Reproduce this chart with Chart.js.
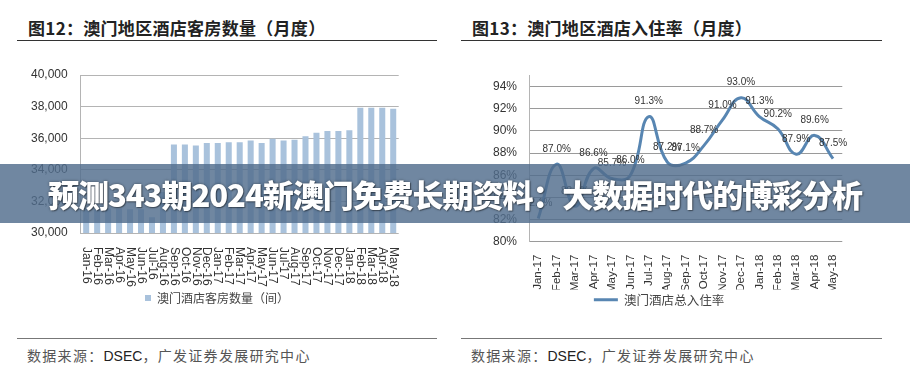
<!DOCTYPE html>
<html><head><meta charset="utf-8">
<script src="https://cdn.jsdelivr.net/npm/chart.js@4.4.0/dist/chart.umd.min.js"></script>
<style>
body{margin:0;width:910px;height:388px;background:#fff;position:relative;overflow:hidden;font-family:"Noto Sans CJK SC",sans-serif;}
.title{position:absolute;top:18px;line-height:20px;font-size:17px;letter-spacing:0.3px;font-weight:bold;color:#222;white-space:nowrap;}
.hline{position:absolute;height:0;}
.src{position:absolute;top:346px;line-height:18px;font-size:14px;letter-spacing:1.3px;color:#555;white-space:nowrap;}
.src b{font-family:"Liberation Sans",Arial,sans-serif;font-weight:normal;font-size:14px;letter-spacing:0;color:#222;}
.box{position:absolute;}
#banner{position:absolute;left:0;top:164px;width:910px;height:59px;background:rgba(80,108,140,0.82);display:flex;align-items:center;justify-content:center;}
#banner span{color:#fff;font-weight:900;font-size:31px;line-height:36px;text-shadow:0 0 3px rgba(0,0,0,.45),1px 1px 1px rgba(0,0,0,.35);white-space:nowrap;}
</style></head>
<body>
<div class="title" style="left:28px">图12：澳门地区酒店客房数量（月度）</div>
<div class="hline" style="left:17px;width:420px;top:40px;border-top:1.5px solid #333"></div>
<div class="title" style="left:472px">图13：澳门地区酒店入住率（月度）</div>
<div class="hline" style="left:461px;width:421px;top:40px;border-top:1.5px solid #333"></div>

<div class="box" style="left:18px;top:60px"><canvas id="c1" width="404" height="256"></canvas></div>
<div class="box" style="left:462px;top:60px"><canvas id="c2" width="398" height="258"></canvas></div>

<div class="hline" style="left:17px;width:420px;top:338px;border-top:1.5px solid #777"></div>
<div class="hline" style="left:461px;width:421px;top:338px;border-top:1.5px solid #777"></div>
<div class="src" style="left:27px">数据来源：<b>DSEC</b>，广发证券发展研究中心</div>
<div class="src" style="left:471px">数据来源：<b>DSEC</b>，广发证券发展研究中心</div>

<div id="banner"><span id="bt">预测343期2024新澳门免费长期资料：大数据时代的博彩分析</span></div>

<script>
// ---- data ----
const roomMonths = ['Jan-16','Feb-16','Mar-16','Apr-16','May-16','Jun-16','Jul-16','Aug-16','Sep-16','Oct-16','Nov-16','Dec-16',
  'Jan-17','Feb-17','Mar-17','Apr-17','May-17','Jun-17','Jul-17','Aug-17','Sep-17','Oct-17','Nov-17','Dec-17',
  'Jan-18','Feb-18','Mar-18','Apr-18','May-18'];
const roomCounts = [31600,31500,31550,31550,31500,31500,31000,32600,35600,35600,35540,35690,
  35690,35750,35750,35860,35690,35960,35860,35900,36130,36340,36450,36450,
  36510,37930,37930,37930,37860];
const roomSeriesName = '澳门酒店客房数量（间）';
const roomTicks = [30000,32000,34000,36000,38000,40000];

const occMonths = ['Jan-17','Feb-17','Mar-17','Apr-17','May-17','Jun-17','Jul-17','Aug-17','Sep-17','Oct-17','Nov-17','Dec-17',
  'Jan-18','Feb-18','Mar-18','Apr-18','May-18'];
const occRates = [82.1,87.0,83.2,86.6,85.7,86.0,91.3,87.2,87.1,88.7,91.0,93.0,91.3,90.2,87.9,89.6,87.5];
const occSeriesName = '澳门酒店总入住率';
const occTicks = [80,82,84,86,88,90,92,94];

const AX = '"Liberation Sans", Arial, sans-serif';
const CJK = '"Noto Sans CJK SC", sans-serif';

// fit banner text
(function(){
  const s=document.getElementById('bt');
  const w=s.getBoundingClientRect().width;
  const n=s.textContent.length;
  s.style.letterSpacing=((815-w)/(n-1)).toFixed(2)+'px';
})();

// legend centring helper
function legendCenter(target){
  return {id:'legendCenter',afterLayout(chart){
    const lg=chart.legend, pad=lg.options.labels.padding;
    lg.left=0; lg.right=2*target-pad; lg.width=lg.right;
  }};
}
const noYPad = s => { s.paddingTop = 0; s.paddingBottom = 0; };

// clockwise rotated x labels for chart 1
const cwLabels = {
  id:'cwLabels',
  afterDraw(chart){
    const sc=chart.scales.x, ctx=chart.ctx;
    ctx.save();
    ctx.font='12px '+AX; ctx.fillStyle='#333';
    ctx.textAlign='left'; ctx.textBaseline='middle';
    sc.ticks.forEach((t,i)=>{
      const x=sc.getPixelForTick(i), y=chart.chartArea.bottom+14;
      ctx.save(); ctx.translate(x,y); ctx.rotate(Math.PI/2);
      ctx.fillText(roomMonths[i],0,0); ctx.restore();
    });
    ctx.restore();
  }
};

const ch1 = new Chart(document.getElementById('c1'),{
  type:'bar',
  data:{labels:roomMonths,datasets:[{label:roomSeriesName,data:roomCounts,backgroundColor:'#a9c2dc',
    barPercentage:0.55,categoryPercentage:1.0}]},
  options:{
    responsive:false,animation:false,devicePixelRatio:1,
    layout:{padding:{top:15,right:22,left:0,bottom:2}},
    plugins:{tooltip:{enabled:false},
      legend:{position:'bottom',labels:{boxWidth:6,boxHeight:6,padding:6,color:'#444',font:{family:CJK,size:12}}}},
    scales:{
      y:{min:30000,max:40000,afterBuildTicks:s=>{s.ticks=roomTicks.map(v=>({value:v}));},afterFit:noYPad,
        ticks:{color:'#333',font:{family:AX,size:12},padding:13,callback:v=>v.toLocaleString('en-US')},
        grid:{color:'#b4b4b4',drawTicks:false},border:{display:true,color:'#b4b4b4'}},
      x:{grid:{display:false,drawTicks:false},border:{display:false},
        ticks:{autoSkip:false,minRotation:90,maxRotation:90,color:'rgba(0,0,0,0)',font:{family:AX,size:12},padding:14}}
    }
  },
  plugins:[cwLabels, legendCenter(202)]
});

// data labels for chart 2
const pctLabels = {
  id:'pctLabels',
  afterDatasetsDraw(chart){
    const meta=chart.getDatasetMeta(0), ctx=chart.ctx;
    ctx.save(); ctx.font='10px '+AX; ctx.fillStyle='#333';
    ctx.textAlign='center'; ctx.textBaseline='middle';
    meta.data.forEach((p,i)=>{ ctx.fillText(occRates[i].toFixed(1)+'%',p.x,p.y-15); });
    ctx.restore();
  }
};

const ch2 = new Chart(document.getElementById('c2'),{
  type:'line',
  data:{labels:occMonths,datasets:[{label:occSeriesName,data:occRates,borderColor:'#5886b2',backgroundColor:'#5886b2',
    borderWidth:3,pointRadius:0,tension:0.45,fill:false}]},
  options:{
    responsive:false,animation:false,devicePixelRatio:1,
    layout:{padding:{top:15.6,right:5,left:19,bottom:2}},
    plugins:{tooltip:{enabled:false},
      legend:{position:'bottom',labels:{boxWidth:24,boxHeight:3,padding:4,color:'#444',font:{family:CJK,size:12.5},
        generateLabels:(c)=>Chart.defaults.plugins.legend.labels.generateLabels(c).map(l=>Object.assign(l,{lineWidth:0}))}}},
    scales:{
      y:{min:80,max:95,afterBuildTicks:s=>{s.ticks=occTicks.map(v=>({value:v}));},afterFit:noYPad,
        ticks:{color:'#333',font:{family:AX,size:12},padding:12,callback:v=>v+'%'},
        grid:{color:'#9a9a9a',drawTicks:false},border:{display:true,color:'#b4b4b4'}},
      x:{offset:true,grid:{display:false,drawTicks:false},border:{display:false},
        ticks:{autoSkip:false,minRotation:90,maxRotation:90,color:'#333',font:{family:AX,size:11.5},padding:13}}
    }
  },
  plugins:[pctLabels, legendCenter(199)]
});

// adjust x-axis heights so plot bottoms match
function fixBottom(ch, desired){
  const d = ch.chartArea.bottom - desired;
  const h = ch.scales.x.height + d;
  ch.options.scales.x.afterFit = s => { s.height = h; };
  ch.update();
}
fixBottom(ch1, 173);
fixBottom(ch2, 181.7);
</script>
</body></html>
